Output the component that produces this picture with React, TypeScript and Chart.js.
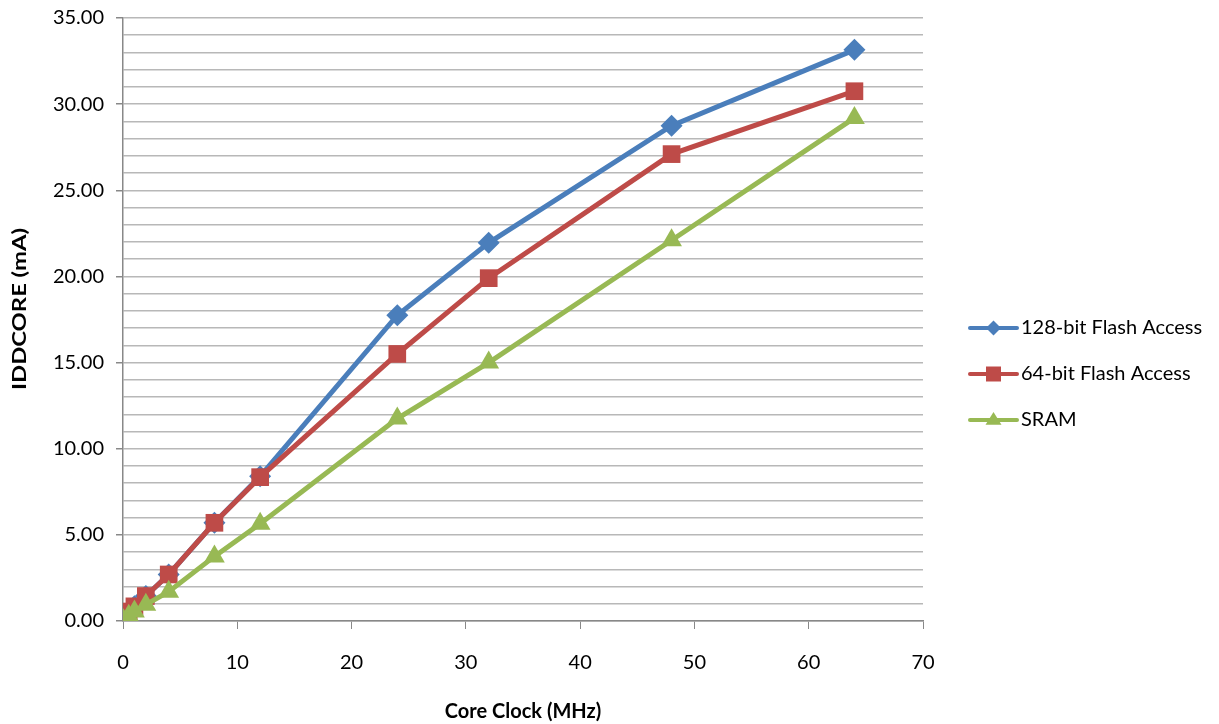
import React, { useEffect, useRef } from "react";
import { Chart, registerables } from "chart.js";

Chart.register(...registerables);

const clockMHz = [0.032, 0.5, 1, 2, 4, 8, 12, 24, 32, 48, 64];
const flash128 = [0.35, 0.55, 0.85, 1.45, 2.7, 5.7, 8.4, 17.75, 21.95, 28.75, 33.15];
const flash64 = [0.35, 0.55, 0.85, 1.45, 2.7, 5.7, 8.35, 15.5, 19.9, 27.1, 30.75];
const sram = [0.05, 0.3, 0.55, 0.95, 1.7, 3.75, 5.65, 11.75, 15.0, 22.1, 29.2];

const seriesNames = ["128-bit Flash Access", "64-bit Flash Access", "SRAM"];
const seriesColors = ["#4A7EBB", "#BE4B48", "#98B954"];
const seriesStyles = ["rectRot", "rect", "triangle"];
const seriesRadius = [11, 12.5, 12];
const seriesOrder = [2, 1, 0];
const legendRadius = [7.5, 7.5, 8];

const yTitle = "IDDCORE (mA)";
const xTitle = "Core Clock (MHz)";

const FONT = "Lato, 'Open Sans', sans-serif";

const overlayPlugin = {
  id: "overlay",
  afterDraw(chart: any) {
    const ctx = chart.ctx;
    const x0 = 970;
    const x1 = 1017;
    const ys = [328, 374, 420];
    ctx.save();
    chart.data.datasets.forEach((ds: any, i: number) => {
      const y = ys[i];
      ctx.strokeStyle = ds.borderColor;
      ctx.lineWidth = 4;
      ctx.lineCap = "round";
      ctx.beginPath();
      ctx.moveTo(x0, y);
      ctx.lineTo(x1, y);
      ctx.stroke();
      const mx = (x0 + x1) / 2;
      ctx.fillStyle = ds.borderColor;
      const r = legendRadius[i];
      ctx.beginPath();
      if (ds.pointStyle === "rectRot") {
        ctx.moveTo(mx, y - r);
        ctx.lineTo(mx + r, y);
        ctx.lineTo(mx, y + r);
        ctx.lineTo(mx - r, y);
        ctx.closePath();
      } else if (ds.pointStyle === "rect") {
        ctx.rect(mx - r, y - r, 2 * r, 2 * r);
      } else {
        ctx.moveTo(mx, y - r);
        ctx.lineTo(mx + r, y + r * 0.6);
        ctx.lineTo(mx - r, y + r * 0.6);
        ctx.closePath();
      }
      ctx.fill();
      ctx.fillStyle = "#000";
      ctx.font = `20px ${FONT}`;
      ctx.textBaseline = "middle";
      ctx.textAlign = "left";
      ctx.fillText(ds.label, x1 + 4, y);
    });

    // rotated y-axis title, stretched along its length like the original
    ctx.font = `bold 19px ${FONT}`;
    const w = ctx.measureText(yTitle).width;
    ctx.translate(20, 309);
    ctx.rotate(-Math.PI / 2);
    ctx.scale(162 / w, 1);
    ctx.textAlign = "center";
    ctx.textBaseline = "middle";
    ctx.fillStyle = "#000";
    ctx.fillText(yTitle, 0, 0);
    ctx.restore();
  },
};

export default function App() {
  const canvasRef = useRef<HTMLCanvasElement | null>(null);

  useEffect(() => {
    if (!canvasRef.current) return;
    const datasets = [flash128, flash64, sram].map((vals, i) => ({
      label: seriesNames[i],
      data: clockMHz.map((x, j) => ({ x, y: vals[j] })),
      borderColor: seriesColors[i],
      backgroundColor: seriesColors[i],
      borderWidth: 5,
      pointStyle: seriesStyles[i],
      pointRadius: seriesRadius[i],
      pointBorderWidth: 0,
      pointBackgroundColor: seriesColors[i],
      order: seriesOrder[i],
      tension: 0,
    }));

    const chart = new Chart(canvasRef.current, {
      type: "line",
      data: { datasets },
      plugins: [overlayPlugin],
      options: {
        animation: false,
        responsive: false,
        maintainAspectRatio: false,
        layout: { padding: { top: 18, right: 296, left: 0, bottom: 0 } },
        plugins: {
          legend: { display: false },
          tooltip: { enabled: false },
        },
        scales: {
          x: {
            type: "linear",
            min: 0,
            max: 70,
            afterFit: (s: any) => {
              s.height = 103;
            },
            ticks: {
              stepSize: 10,
              color: "#000",
              padding: 22,
              font: { family: FONT, size: 20 },
              maxRotation: 0,
            },
            grid: {
              drawOnChartArea: false,
              drawTicks: true,
              tickLength: 8,
              tickColor: "#888",
            },
            border: { color: "#888", width: 1.5 },
            title: {
              display: true,
              text: xTitle,
              color: "#000",
              font: { family: FONT, size: 20, weight: "bold" },
              padding: { top: 0, bottom: 0 },
            },
          },
          y: {
            type: "linear",
            min: 0,
            max: 35,
            afterFit: (s: any) => {
              s.width = 123;
            },
            ticks: {
              stepSize: 1,
              autoSkip: false,
              color: "#000",
              padding: 12,
              font: { family: FONT, size: 20, lineHeight: 0.6 },
              callback: (v: any) => (Number(v) % 5 === 0 ? Number(v).toFixed(2) : ""),
            },
            grid: {
              color: "#B8B8B8",
              lineWidth: 1.5,
              tickLength: 7,
              tickColor: (ctx: any) =>
                ctx.tick && ctx.tick.value % 5 === 0 ? "#888" : "rgba(0,0,0,0)",
            },
            border: { color: "#888", width: 1.5 },
            title: { display: false },
          },
        },
      } as any,
    });
    return () => chart.destroy();
  }, []);

  return (
    <div style={{ position: "fixed", left: 0, top: 0, width: 1219, height: 724, background: "#fff" }}>
      <canvas ref={canvasRef} width={1219} height={724} style={{ width: 1219, height: 724 }} />
    </div>
  );
}
